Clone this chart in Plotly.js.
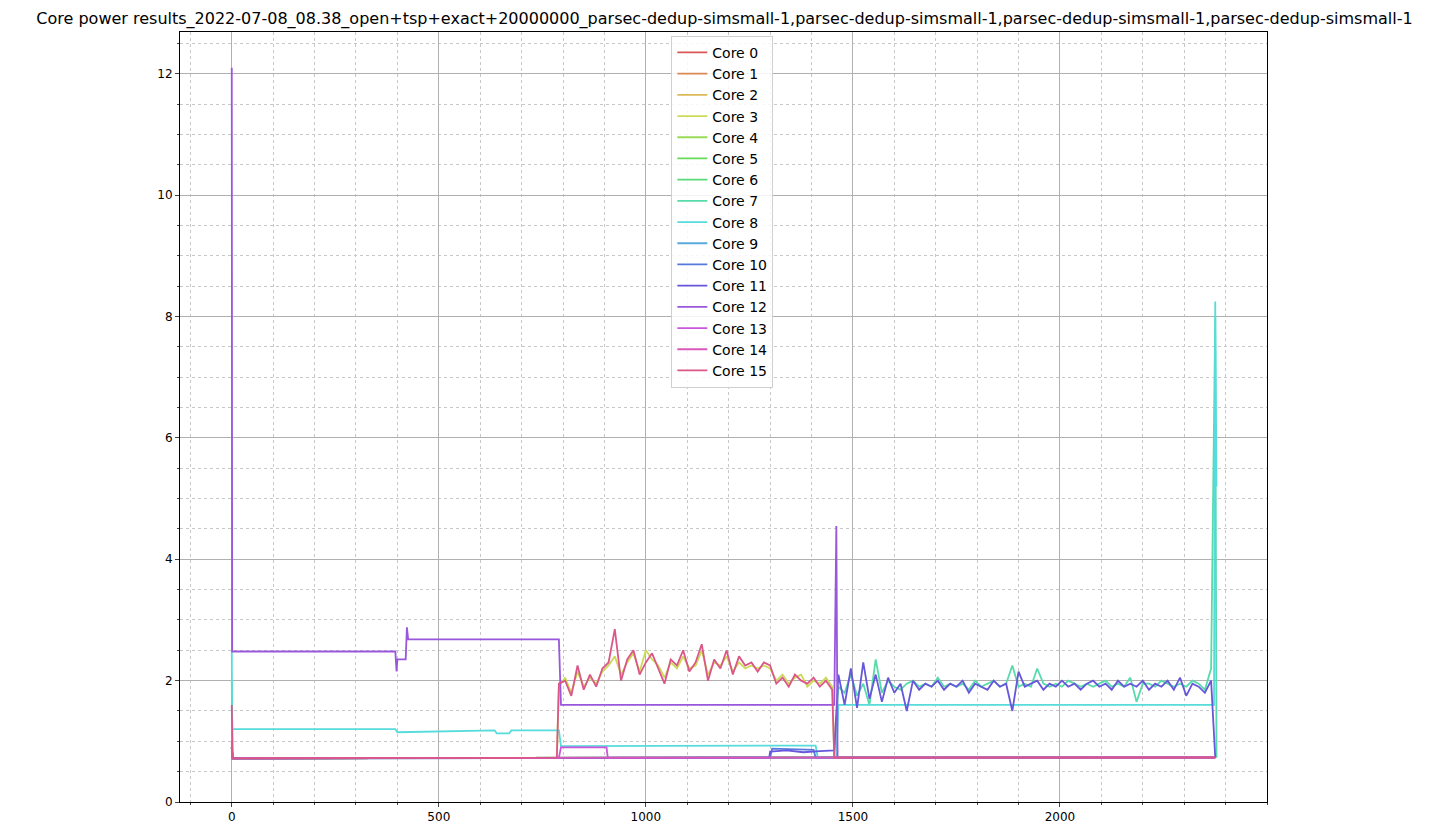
<!DOCTYPE html>
<html>
<head>
<meta charset="utf-8">
<script src="https://cdn.plot.ly/plotly-3.0.1.min.js"></script>
<style>body{margin:0;background:#fff}</style>
</head>
<body>
<div id="chart" style="width:1449px;height:836px"></div>
<script>
var coreNames = ['Core 0','Core 1','Core 2','Core 3','Core 4','Core 5','Core 6','Core 7',
                 'Core 8','Core 9','Core 10','Core 11','Core 12','Core 13','Core 14','Core 15'];

var xBusyA = [790,805,820,835,850,865,880,895,910,925,940,955,970,985,1000,1015,1030,1045,1060,1075,
              1090,1105,1120,1135,1150,1165,1180,1195,1210,1225,1240,1255,1270,1285,1300,1315,1330,1345,
              1360,1375,1390,1405,1420,1435,1450];
var pinkBusy = [1.95,2.0,1.75,2.25,1.85,2.1,1.9,2.2,2.3,2.85,2.0,2.35,2.5,2.1,2.3,2.45,2.2,1.95,2.35,2.25,
                2.5,2.15,2.3,2.6,2.0,2.35,2.2,2.5,2.1,2.4,2.25,2.3,2.15,2.3,2.25,1.95,2.05,1.9,2.1,2.0,
                1.95,2.05,1.9,2.0,1.85];
var yellowBusy = [1.9,2.05,1.8,2.15,1.9,2.05,1.95,2.15,2.25,2.4,2.1,2.3,2.45,2.15,2.5,2.35,2.25,2.05,2.3,2.2,
                  2.4,2.2,2.25,2.5,2.1,2.3,2.25,2.4,2.15,2.3,2.2,2.25,2.2,2.25,2.2,2.0,2.1,1.95,2.05,2.1,
                  1.9,2.0,1.95,2.05,1.9];

var xBusyB = [1465,1480,1495,1510,1525,1540,1555,1570,1585,1600,1615,1630,1645,1660,1675,1690,1705,1720,
              1735,1750,1765,1780,1795,1810,1825,1840,1855,1870,1885,1900,1915,1930,1945,1960,1975,1990,
              2005,2020,2035,2050,2065,2080,2095,2110,2125,2140,2155,2170,2185,2200,2215,2230,2245,2260,
              2275,2290,2305,2320,2335,2350,2365];
var violetBusy = [2.1,1.6,2.2,1.55,2.3,1.7,2.1,1.65,2.05,1.8,1.95,1.5,2.0,1.85,1.95,1.9,2.0,1.85,
                  1.95,1.9,2.0,1.8,1.95,1.9,1.85,2.0,1.9,1.95,1.5,2.15,1.9,1.95,2.0,1.85,1.95,1.9,
                  2.0,1.9,1.95,1.85,1.95,2.0,1.9,1.95,1.85,2.0,1.9,1.95,1.9,2.0,1.85,1.95,1.9,2.0,
                  1.85,2.05,1.75,1.95,1.9,1.8,2.0];
var tealBusy = [1.9,1.8,2.1,1.75,1.95,1.6,2.35,1.8,2.0,1.9,1.85,1.95,2.0,1.9,1.95,1.9,2.05,1.9,
                1.95,1.9,1.95,1.85,2.0,1.9,1.95,2.0,1.9,1.95,2.25,1.9,1.95,1.9,2.2,1.95,1.9,1.95,
                1.9,2.0,1.95,1.9,1.95,1.9,1.95,2.0,1.9,1.95,1.9,2.05,1.65,1.95,1.95,1.9,2.0,1.95,
                1.9,1.95,1.9,2.0,1.95,1.85,2.2];

// step-like segments [x, y]
var purpleX = [0,1,395,398,400,420,423,426,790,795,1455,1460,1463,2375];
var purpleY = [12.1,2.48,2.48,2.15,2.35,2.35,2.88,2.68,2.68,1.6,1.6,4.55,0.73,0.73];
var cyanX = [0,1,395,400,635,640,670,675,790,795,1300,1410,1415,1460,1465,2372,2375,2378];
var cyanY = [2.5,1.2,1.2,1.15,1.18,1.13,1.13,1.18,1.18,0.92,0.93,0.93,0.73,0.73,1.6,1.6,8.25,5.2];
var magentaX = [0,2,790,795,905,908,2375];
var magentaY = [1.0,0.72,0.73,0.9,0.9,0.73,0.73];
var blueX = [0,2,1300,1305,1405,1410,2375];
var blueY = [0.9,0.72,0.73,0.88,0.86,0.73,0.73];
var violetLowX = [0,2,1298,1300,1340,1380,1420,1455];
var violetLowY = [0.9,0.72,0.73,0.83,0.85,0.82,0.84,0.85];
var baseX = [0,2,2375];
var baseY = [0.9,0.72,0.74];

function hls(i){ return 'hsl(' + (i*22.5) + ',65%,60%)'; }

var traces = [];
for (var i = 0; i < 16; i++) {
  var x = baseX, y = baseY;
  if (i === 3) { x = [0,2,785].concat(xBusyA, [1455,2375]); y = [0.9,0.72,0.73].concat(yellowBusy, [0.73,0.73]); }
  if (i === 7) { x = [0,2,1455].concat(xBusyB, [2375,2378]); y = [2.0,0.72,0.73].concat(tealBusy, [8.0,0.73]); }
  if (i === 8) { x = cyanX; y = cyanY; }
  if (i === 10) { x = blueX; y = blueY; }
  if (i === 11) { x = violetLowX.concat(xBusyB, [2375]); y = violetLowY.concat(violetBusy, [0.73]); }
  if (i === 12) { x = purpleX; y = purpleY; }
  if (i === 13) { x = magentaX; y = magentaY; }
  if (i === 15) { x = [0,2,785].concat(xBusyA, [1455,2375]); y = [1.6,0.72,0.73].concat(pinkBusy, [0.73,0.73]); }
  traces.push({x: x, y: y, name: coreNames[i], type: 'scatter', mode: 'lines',
               line: {color: hls(i), width: 1.8}});
}

var layout = {
  width: 1449, height: 836,
  paper_bgcolor: '#fff', plot_bgcolor: '#fff',
  font: {family: 'DejaVu Sans', size: 12, color: '#000'},
  title: {text: 'Core power results_2022-07-08_08.38_open+tsp+exact+20000000_parsec-dedup-simsmall-1,parsec-dedup-simsmall-1,parsec-dedup-simsmall-1,parsec-dedup-simsmall-1',
          x: 0.5, y: 0.985, font: {size: 16}},
  margin: {l: 180, r: 182, t: 32, b: 34},
  xaxis: {range: [-125, 2500], tickvals: [0,500,1000,1500,2000], showline: true, mirror: true,
          linecolor: '#000', ticks: 'outside', ticklen: 4, gridcolor: '#b0b0b0', zeroline: false,
          minor: {dtick: 100, tick0: 0, showgrid: true, gridcolor: '#c8c8c8', griddash: 'dot', ticks: 'outside', ticklen: 2}},
  yaxis: {range: [0, 12.69], tickvals: [0,2,4,6,8,10,12], showline: true, mirror: true,
          linecolor: '#000', ticks: 'outside', ticklen: 4, gridcolor: '#b0b0b0', zeroline: false,
          minor: {dtick: 0.5, tick0: 0, showgrid: true, gridcolor: '#c8c8c8', griddash: 'dot', ticks: 'outside', ticklen: 2}},
  legend: {x: 0.452, y: 0.995, xanchor: 'left', yanchor: 'top', bgcolor: 'rgba(255,255,255,0.85)',
           bordercolor: '#d0d0d0', borderwidth: 1, font: {size: 14}, tracegroupgap: 0},
  showlegend: true
};

Plotly.newPlot('chart', traces, layout, {displayModeBar: false});
</script>
</body>
</html>
